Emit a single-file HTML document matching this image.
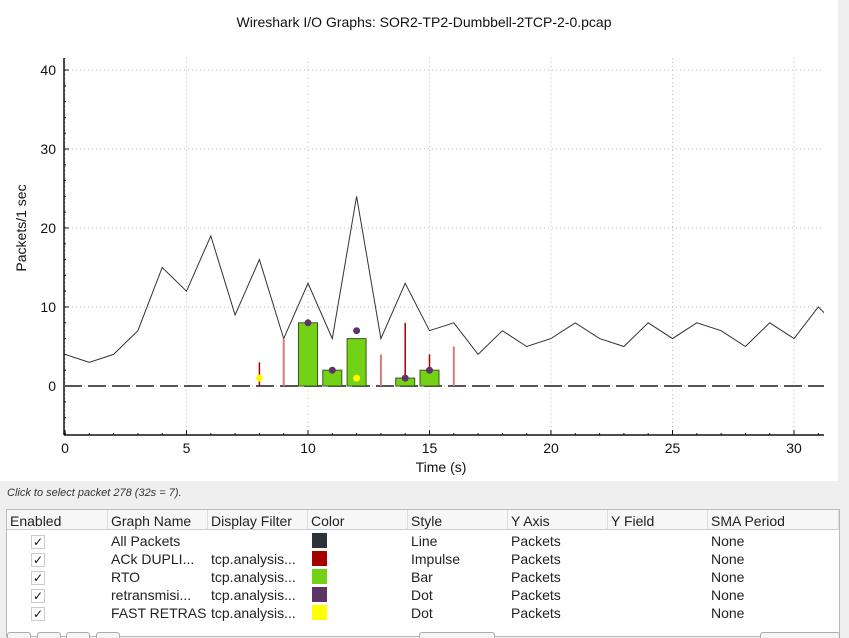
<!DOCTYPE html>
<html><head><meta charset="utf-8"><style>
body{margin:0;width:849px;height:637px;overflow:hidden;background:#efefef;font-family:"Liberation Sans","DejaVu Sans",sans-serif;}
#plot{position:absolute;left:0;top:0;width:838px;height:481px;background:#fff;}
#status{position:absolute;left:7px;top:487px;font-size:11px;font-style:italic;color:#333;}
#tbl{position:absolute;left:6px;top:509px;width:832px;height:126px;background:#fff;border:1px solid #bbb;font-size:14px;color:#222;}
.hd{position:absolute;top:0;height:20px;line-height:22px;border-right:1px solid #ddd;border-bottom:1px solid #ccc;padding-left:3px;box-sizing:border-box;background:#f7f7f7;}
.c{position:absolute;height:18px;line-height:18px;}
.cb{position:absolute;width:12px;height:12px;border:1px solid #ccc;background:#fff;font-size:12px;line-height:12px;text-align:center;color:#111;}
.sw{position:absolute;width:15px;height:15px;}
.btn{position:absolute;top:632px;height:5px;border:1px solid #aaa;border-bottom:none;background:#f5f5f5;border-radius:3px 3px 0 0;}
</style></head><body>
<div id="plot">
<svg id="svg" width="838" height="481">
<text x="424" y="27" text-anchor="middle" font-size="14" fill="#111" font-family="Liberation Sans, sans-serif">Wireshark I/O Graphs: SOR2-TP2-Dumbbell-2TCP-2-0.pcap</text>
<text transform="translate(26,228) rotate(-90)" text-anchor="middle" font-size="14" fill="#111">Packets/1 sec</text>
<text x="441" y="472" text-anchor="middle" font-size="14" fill="#111">Time (s)</text>
<g id="g"></g>
</svg>
</div>
<div id="status">Click to select packet 278 (32s = 7).</div>
<div id="tbl">
<div class="hd" style="left:0;width:101px">Enabled</div>
<div class="hd" style="left:101px;width:100px">Graph Name</div>
<div class="hd" style="left:201px;width:100px">Display Filter</div>
<div class="hd" style="left:301px;width:100px">Color</div>
<div class="hd" style="left:401px;width:100px">Style</div>
<div class="hd" style="left:501px;width:100px">Y Axis</div>
<div class="hd" style="left:601px;width:100px">Y Field</div>
<div class="hd" style="left:701px;width:131px">SMA Period</div>
<div id="rows"></div>
</div>
<div class="btn" style="left:7px;width:22px"></div>
<div class="btn" style="left:37px;width:22px"></div>
<div class="btn" style="left:66px;width:22px"></div>
<div class="btn" style="left:96px;width:22px"></div>
<div class="btn" style="left:419px;width:74px"></div>
<div class="btn" style="left:760px;width:78px"></div>
<script>
const names=["All Packets","ACk DUPLI...","RTO","retransmisi...","FAST RETRAS"];
const filters=["","tcp.analysis...","tcp.analysis...","tcp.analysis...","tcp.analysis..."];
const colors=["#2e3436","#a40000","#73d216","#5c3566","#ffff00"];
const styles=["Line","Impulse","Bar","Dot","Dot"];
const rows=document.getElementById('rows');
names.forEach((n,i)=>{
 const y=22+i*18;
 const r=document.createElement('div');
 
 
 r.innerHTML=`<div class="cb" style="left:24px;top:${y+3}px">✓</div>
<div class="c" style="left:104px;top:${y}px">${n}</div>
<div class="c" style="left:204px;top:${y}px">${filters[i]}</div>
<div class="sw" style="left:305px;top:${y+1}px;background:${colors[i]}"></div>
<div class="c" style="left:404px;top:${y}px">${styles[i]}</div>
<div class="c" style="left:504px;top:${y}px">Packets</div>
<div class="c" style="left:704px;top:${y}px">None</div>`;
 rows.appendChild(r);
});
</script>
<script>
const lineX=[0,1,2,3,4,5,6,7,8,9,10,11,12,13,14,15,16,17,18,19,20,21,22,23,24,25,26,27,28,29,30,31,32];
const lineY=[4,3,4,7,15,12,19,9,16,6,13,6,24,6,13,7,8,4,7,5,6,8,6,5,8,6,8,7,5,8,6,10,7];
const impX=[8,9,13,14,15,16];
const impY=[3,6,4,8,4,5];
const impDark=[true,false,false,true,true,false];
const barX=[10,11,12,14,15];
const barY=[8,2,6,1,2];
const dotX=[10,11,12,14,15];
const dotY=[8,2,7,1,2];
const fastX=[8,12];
const fastY=[1,1];
const xTicks=[0,5,10,15,20,25,30];
const yTicks=[0,10,20,30,40];
const X0=65,XS=24.3,Y0=386,YS=7.9,L=64,R=824,T=58,B=435;
const sx=v=>X0+v*XS, sy=v=>Y0-v*YS;
const g=document.getElementById('g');
const NS='http://www.w3.org/2000/svg';
function el(t,a,name){const e=document.createElementNS(NS,t);for(const k in a)e.setAttribute(k,a[k]);


g.appendChild(e);return e;}
const cp=el('clipPath',{id:'cp'},'plot-clip');
const cr=document.createElementNS(NS,'rect');cr.setAttribute('x',L);cr.setAttribute('y',T);cr.setAttribute('width',R-L);cr.setAttribute('height',B-T);cp.appendChild(cr);
xTicks.forEach(v=>{el('line',{x1:sx(v),x2:sx(v),y1:T,y2:B,stroke:'#bbb','stroke-dasharray':'1,3'},'x-grid-line');
 const t=el('text',{x:sx(v),y:B+18,'text-anchor':'middle','font-size':14,fill:'#111'},'x-tick-label');t.textContent=v;});
yTicks.forEach(v=>{el('line',{x1:L,x2:R,y1:sy(v),y2:sy(v),stroke:'#bbb','stroke-dasharray':'1,3'},'y-grid-line');
 const t=el('text',{x:L-8,y:sy(v)+5,'text-anchor':'end','font-size':14,fill:'#111'},'y-tick-label');t.textContent=v;});
for(let v=0;v<=31;v++)el('line',{x1:sx(v),x2:sx(v),y1:B,y2:B-(v%5?2:5),stroke:'#111'},'x-tick');
for(let v=-6;v<=41;v+=2)el('line',{x1:L,x2:L+(v%10?2:5),y1:sy(v),y2:sy(v),stroke:'#111'},'y-tick');
el('line',{x1:L,x2:R,y1:B,y2:B,stroke:'#111','stroke-width':1.5},'x-axis');
el('line',{x1:L,x2:L,y1:T,y2:B,stroke:'#111','stroke-width':1.5},'y-axis');
const cg=document.createElementNS(NS,'g');cg.setAttribute('clip-path','url(#cp)');g.appendChild(cg);
function ce(t,a,name){const e=el(t,a,name);cg.appendChild(e);return e;}
ce('line',{x1:L,x2:R,y1:sy(0),y2:sy(0),stroke:'#555','stroke-width':2,'stroke-dasharray':'18,6'},'zero-baseline');
ce('polyline',{points:lineX.map((x,i)=>sx(x)+','+sy(lineY[i])).join(' '),fill:'none',stroke:'#2e3436','stroke-width':1},'all-packets-line');
impX.forEach((x,i)=>ce('line',{x1:sx(x),x2:sx(x),y1:sy(0),y2:sy(impY[i]),stroke:impDark[i]?'#a40000':'#d87b7b','stroke-width':impDark[i]?1.5:2},'ack-dup-impulse'));
barX.forEach((x,i)=>ce('rect',{x:sx(x)-9.5,y:sy(barY[i]),width:19,height:barY[i]*YS,fill:'#73d216',stroke:'#3a5a1a','stroke-width':1},'rto-bar'));
dotX.forEach((x,i)=>ce('circle',{cx:sx(x),cy:sy(dotY[i]),r:3.5,fill:'#5c3566'},'retransmission-dot'));
fastX.forEach((x,i)=>ce('circle',{cx:sx(x),cy:sy(fastY[i]),r:3.5,fill:'#ffff00'},'fast-retransmission-dot'));
</script>
</body></html>
